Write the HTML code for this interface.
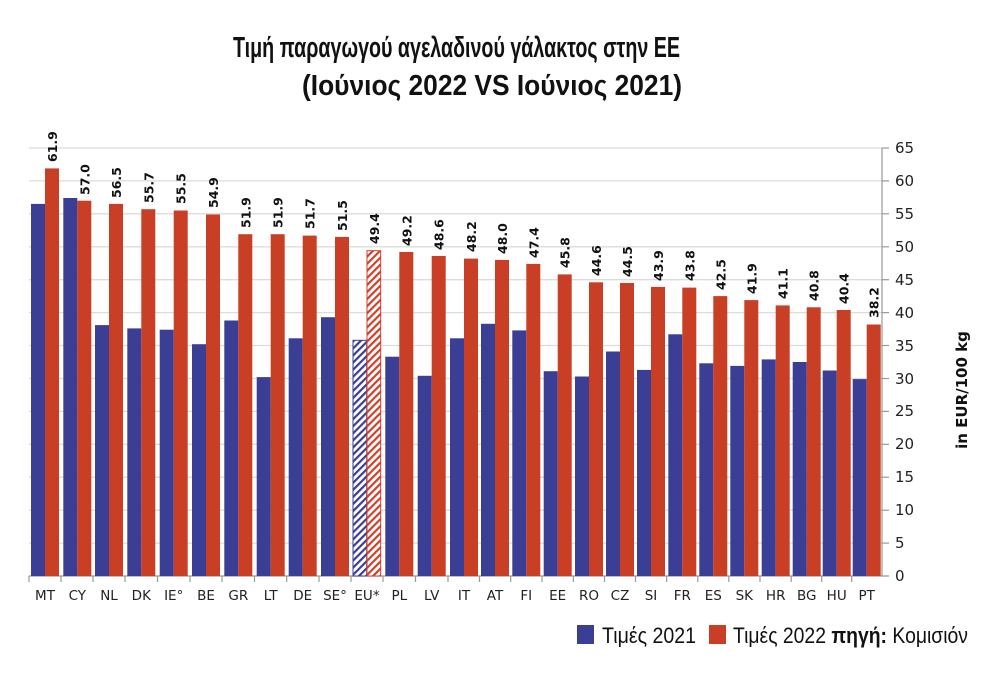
<!DOCTYPE html>
<html><head><meta charset="utf-8"><style>
body{margin:0;background:#fff}
svg{display:block}
.v{font-family:"DejaVu Sans","Liberation Sans",sans-serif;font-size:12.5px;font-weight:bold;fill:#111}
.x{font-family:"DejaVu Sans","Liberation Sans",sans-serif;font-size:13.5px;fill:#222;text-anchor:middle}
.y{font-family:"DejaVu Sans","Liberation Sans",sans-serif;font-size:15px;fill:#222}
</style></head><body>
<svg width="992" height="677" viewBox="0 0 992 677" xmlns="http://www.w3.org/2000/svg">
<defs>
<pattern id="hb" width="5" height="5" patternUnits="userSpaceOnUse" patternTransform="rotate(45)"><rect width="5" height="5" fill="#fff"/><rect width="2.2" height="5" fill="#3a3f95"/></pattern>
<pattern id="hr" width="5" height="5" patternUnits="userSpaceOnUse" patternTransform="rotate(45)"><rect width="5" height="5" fill="#fff"/><rect width="2.2" height="5" fill="#d0402a"/></pattern>
</defs>
<text x="233" y="57" font-family="Liberation Sans,sans-serif" font-weight="bold" font-size="29" textLength="447" lengthAdjust="spacingAndGlyphs" fill="#111">Τιμή παραγωγού αγελαδινού γάλακτος στην ΕΕ</text>
<text x="302" y="95" font-family="Liberation Sans,sans-serif" font-weight="bold" font-size="29" textLength="380" lengthAdjust="spacingAndGlyphs" fill="#111">(Ιούνιος 2022 VS Ιούνιος 2021)</text>
<g stroke="#dcdcdc" stroke-width="1.3">
<line x1="29" x2="882" y1="148" y2="148"/><line x1="29" x2="882" y1="180.9" y2="180.9"/><line x1="29" x2="882" y1="213.8" y2="213.8"/><line x1="29" x2="882" y1="246.8" y2="246.8"/><line x1="29" x2="882" y1="279.7" y2="279.7"/><line x1="29" x2="882" y1="312.6" y2="312.6"/><line x1="29" x2="882" y1="345.5" y2="345.5"/><line x1="29" x2="882" y1="378.5" y2="378.5"/><line x1="29" x2="882" y1="411.4" y2="411.4"/><line x1="29" x2="882" y1="444.3" y2="444.3"/><line x1="29" x2="882" y1="477.2" y2="477.2"/><line x1="29" x2="882" y1="510.2" y2="510.2"/><line x1="29" x2="882" y1="543.1" y2="543.1"/>
</g>
<g stroke="#999" stroke-width="1.2">
<line x1="29" x2="889" y1="576" y2="576"/><line x1="882" x2="882" y1="148" y2="576"/>
<line x1="882" x2="889" y1="148" y2="148"/><line x1="882" x2="889" y1="180.9" y2="180.9"/><line x1="882" x2="889" y1="213.8" y2="213.8"/><line x1="882" x2="889" y1="246.8" y2="246.8"/><line x1="882" x2="889" y1="279.7" y2="279.7"/><line x1="882" x2="889" y1="312.6" y2="312.6"/><line x1="882" x2="889" y1="345.5" y2="345.5"/><line x1="882" x2="889" y1="378.5" y2="378.5"/><line x1="882" x2="889" y1="411.4" y2="411.4"/><line x1="882" x2="889" y1="444.3" y2="444.3"/><line x1="882" x2="889" y1="477.2" y2="477.2"/><line x1="882" x2="889" y1="510.2" y2="510.2"/><line x1="882" x2="889" y1="543.1" y2="543.1"/>
<line x1="29" x2="29" y1="576" y2="582"/><line x1="61" x2="61" y1="576" y2="582"/><line x1="93" x2="93" y1="576" y2="582"/><line x1="125" x2="125" y1="576" y2="582"/><line x1="157.5" x2="157.5" y1="576" y2="582"/><line x1="190" x2="190" y1="576" y2="582"/><line x1="222" x2="222" y1="576" y2="582"/><line x1="254.5" x2="254.5" y1="576" y2="582"/><line x1="286.7" x2="286.7" y1="576" y2="582"/><line x1="319" x2="319" y1="576" y2="582"/><line x1="351" x2="351" y1="576" y2="582"/><line x1="383" x2="383" y1="576" y2="582"/><line x1="415.5" x2="415.5" y1="576" y2="582"/><line x1="448" x2="448" y1="576" y2="582"/><line x1="479.5" x2="479.5" y1="576" y2="582"/><line x1="510.7" x2="510.7" y1="576" y2="582"/><line x1="542" x2="542" y1="576" y2="582"/><line x1="573.3" x2="573.3" y1="576" y2="582"/><line x1="604.5" x2="604.5" y1="576" y2="582"/><line x1="635.5" x2="635.5" y1="576" y2="582"/><line x1="666.7" x2="666.7" y1="576" y2="582"/><line x1="697.8" x2="697.8" y1="576" y2="582"/><line x1="728.8" x2="728.8" y1="576" y2="582"/><line x1="760" x2="760" y1="576" y2="582"/><line x1="791.2" x2="791.2" y1="576" y2="582"/><line x1="821.7" x2="821.7" y1="576" y2="582"/><line x1="851.7" x2="851.7" y1="576" y2="582"/>
</g>
<g class="y">
<text x="895" y="153">65</text><text x="895" y="186">60</text><text x="895" y="219">55</text><text x="895" y="252">50</text><text x="895" y="285">45</text><text x="895" y="318">40</text><text x="895" y="351">35</text><text x="895" y="384">30</text><text x="895" y="416">25</text><text x="895" y="449">20</text><text x="895" y="482">15</text><text x="895" y="515">10</text><text x="895" y="548">5</text><text x="895" y="581">0</text>
</g>
<text transform="translate(967,390) rotate(-90)" text-anchor="middle" font-family="DejaVu Sans,Liberation Sans,sans-serif" font-size="15" font-weight="bold" fill="#111">in EUR/100 kg</text>

<g fill="#3a3f95">
<rect x="31" y="203.9" width="14" height="372.1"/>
<rect x="63.3" y="198" width="14" height="378"/>
<rect x="95" y="325.1" width="14" height="250.9"/>
<rect x="127.3" y="328.4" width="14" height="247.6"/>
<rect x="159.7" y="329.7" width="14" height="246.3"/>
<rect x="192" y="344.2" width="14" height="231.8"/>
<rect x="224.3" y="320.5" width="14" height="255.5"/>
<rect x="256.7" y="377.1" width="14" height="198.9"/>
<rect x="288.7" y="338.3" width="14" height="237.7"/>
<rect x="321" y="317.2" width="14" height="258.8"/>
<rect x="385.3" y="356.7" width="14" height="219.3"/>
<rect x="417.7" y="375.8" width="14" height="200.2"/>
<rect x="450" y="338.3" width="14" height="237.7"/>
<rect x="481" y="323.8" width="14" height="252.2"/>
<rect x="512.3" y="330.4" width="14" height="245.6"/>
<rect x="543.7" y="371.2" width="14" height="204.8"/>
<rect x="575" y="376.5" width="14" height="199.5"/>
<rect x="606" y="351.5" width="14" height="224.5"/>
<rect x="637" y="369.9" width="14" height="206.1"/>
<rect x="668.3" y="334.3" width="14" height="241.7"/>
<rect x="699.3" y="363.3" width="14" height="212.7"/>
<rect x="730.3" y="365.9" width="14" height="210.1"/>
<rect x="761.7" y="359.4" width="14" height="216.6"/>
<rect x="792.7" y="362" width="14" height="214"/>
<rect x="822.7" y="370.5" width="14" height="205.5"/>
<rect x="852.7" y="379.1" width="14" height="196.9"/>
</g>
<rect x="353" y="340.3" width="13.7" height="235.7" fill="url(#hb)" stroke="#3a3f95" stroke-width="1"/>
<g fill="#c93f25">
<rect x="45" y="168.4" width="14" height="407.6"/>
<rect x="77.3" y="200.7" width="14" height="375.3"/>
<rect x="109" y="203.9" width="14" height="372.1"/>
<rect x="141.3" y="209.2" width="14" height="366.8"/>
<rect x="173.7" y="210.5" width="14" height="365.5"/>
<rect x="206" y="214.5" width="14" height="361.5"/>
<rect x="238.3" y="234.2" width="14" height="341.8"/>
<rect x="270.7" y="234.2" width="14" height="341.8"/>
<rect x="302.7" y="235.6" width="14" height="340.4"/>
<rect x="335" y="236.9" width="14" height="339.1"/>
<rect x="399.3" y="252" width="14" height="324"/>
<rect x="431.7" y="256" width="14" height="320"/>
<rect x="464" y="258.6" width="14" height="317.4"/>
<rect x="495" y="259.9" width="14" height="316.1"/>
<rect x="526.3" y="263.9" width="14" height="312.1"/>
<rect x="557.7" y="274.4" width="14" height="301.6"/>
<rect x="589" y="282.3" width="14" height="293.7"/>
<rect x="620" y="283" width="14" height="293"/>
<rect x="651" y="286.9" width="14" height="289.1"/>
<rect x="682.3" y="287.6" width="14" height="288.4"/>
<rect x="713.3" y="296.1" width="14" height="279.9"/>
<rect x="744.3" y="300.1" width="14" height="275.9"/>
<rect x="775.7" y="305.4" width="14" height="270.6"/>
<rect x="806.7" y="307.3" width="14" height="268.7"/>
<rect x="836.7" y="310" width="14" height="266"/>
<rect x="866.7" y="324.5" width="14" height="251.5"/>
</g>
<rect x="367" y="250.7" width="13.7" height="325.3" fill="url(#hr)" stroke="#d0402a" stroke-width="1"/>

<g class="v">
<text transform="translate(57,162) rotate(-90)">61.9</text>
<text transform="translate(89.3,195) rotate(-90)">57.0</text>
<text transform="translate(121,198) rotate(-90)">56.5</text>
<text transform="translate(153.3,203) rotate(-90)">55.7</text>
<text transform="translate(185.7,204) rotate(-90)">55.5</text>
<text transform="translate(218,208) rotate(-90)">54.9</text>
<text transform="translate(250.3,228) rotate(-90)">51.9</text>
<text transform="translate(282.7,228) rotate(-90)">51.9</text>
<text transform="translate(314.7,229) rotate(-90)">51.7</text>
<text transform="translate(347,231) rotate(-90)">51.5</text>
<text transform="translate(379,244) rotate(-90)">49.4</text>
<text transform="translate(411.3,246) rotate(-90)">49.2</text>
<text transform="translate(443.7,250) rotate(-90)">48.6</text>
<text transform="translate(476,252) rotate(-90)">48.2</text>
<text transform="translate(507,254) rotate(-90)">48.0</text>
<text transform="translate(538.3,258) rotate(-90)">47.4</text>
<text transform="translate(569.7,268) rotate(-90)">45.8</text>
<text transform="translate(601,276) rotate(-90)">44.6</text>
<text transform="translate(632,277) rotate(-90)">44.5</text>
<text transform="translate(663,281) rotate(-90)">43.9</text>
<text transform="translate(694.3,281) rotate(-90)">43.8</text>
<text transform="translate(725.3,290) rotate(-90)">42.5</text>
<text transform="translate(756.3,294) rotate(-90)">41.9</text>
<text transform="translate(787.7,299) rotate(-90)">41.1</text>
<text transform="translate(818.7,301) rotate(-90)">40.8</text>
<text transform="translate(848.7,304) rotate(-90)">40.4</text>
<text transform="translate(878.7,318) rotate(-90)">38.2</text>
</g>
<g class="x">
<text x="45" y="600">MT</text><text x="77.3" y="600">CY</text><text x="109" y="600">NL</text><text x="141.3" y="600">DK</text><text x="173.7" y="600">IE°</text><text x="206" y="600">BE</text><text x="238.3" y="600">GR</text><text x="270.7" y="600">LT</text><text x="302.7" y="600">DE</text><text x="335" y="600">SE°</text><text x="367" y="600">EU*</text><text x="399.3" y="600">PL</text><text x="431.7" y="600">LV</text><text x="464" y="600">IT</text><text x="495" y="600">AT</text><text x="526.3" y="600">FI</text><text x="557.7" y="600">EE</text><text x="589" y="600">RO</text><text x="620" y="600">CZ</text><text x="651" y="600">SI</text><text x="682.3" y="600">FR</text><text x="713.3" y="600">ES</text><text x="744.3" y="600">SK</text><text x="775.7" y="600">HR</text><text x="806.7" y="600">BG</text><text x="836.7" y="600">HU</text><text x="866.7" y="600">PT</text>
</g>
<rect x="577" y="625" width="17" height="19" fill="#3a3f95"/>
<text x="602" y="643" font-family="Liberation Sans,sans-serif" font-size="22" textLength="94" lengthAdjust="spacingAndGlyphs" fill="#111">Τιμές 2021</text>
<rect x="709" y="625" width="17" height="19" fill="#c93f25"/>
<text x="733" y="643" font-family="Liberation Sans,sans-serif" font-size="22" textLength="235" lengthAdjust="spacingAndGlyphs" fill="#111">Τιμές 2022 <tspan font-weight="bold">πηγή:</tspan> Κομισιόν</text>
</svg>
</body></html>
